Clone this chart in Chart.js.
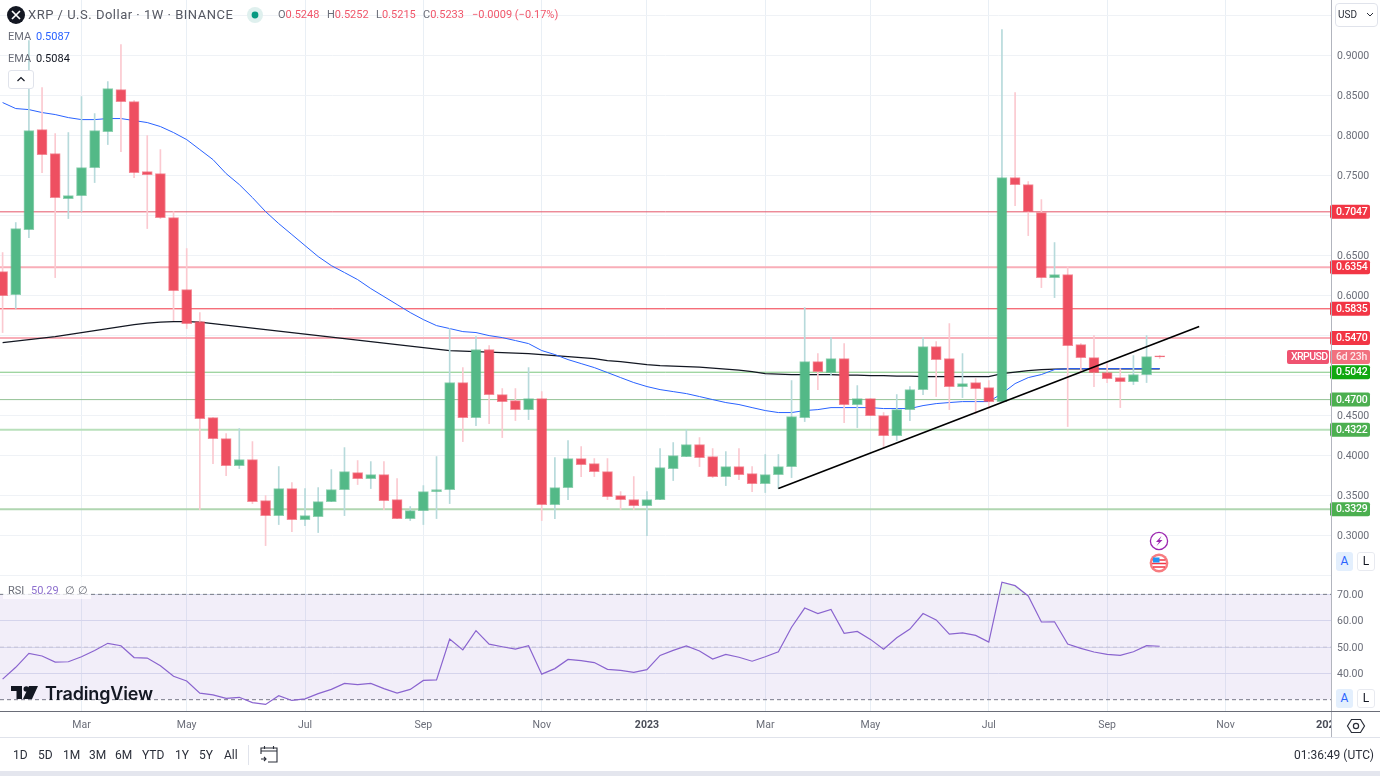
<!DOCTYPE html>
<html>
<head>
<meta charset="utf-8">
<script src="https://cdn.jsdelivr.net/npm/chart.js@4"></script>
<style>
html,body{margin:0;padding:0;background:#fff}
#wrap{position:relative;width:1380px;height:776px;overflow:hidden;background:#fff;font-family:Roboto,sans-serif;color:#131722}
canvas{position:absolute;left:0;top:0}
.t{position:absolute;white-space:nowrap;line-height:14px}
.box{position:absolute;box-sizing:border-box}
.red{color:#f0566a}.gr{color:#6a6d78}
.btn{position:absolute;box-sizing:border-box;border-radius:3px;text-align:center;font-size:12px}
.r{position:absolute;top:748px;font-size:12px;line-height:14px;color:#2a2e39}
</style>
</head>
<body>
<div id="wrap">
<canvas id="c" width="1380" height="738"></canvas>

<svg class="box" style="left:7px;top:6px" width="18" height="18"><circle cx="9" cy="9" r="9" fill="#131722"/><path d="M5 5l8 8M13 5l-8 8" stroke="#fff" stroke-width="1.7"/></svg>
<div class="t" style="left:28px;top:8px;font-size:13px;color:#555862;letter-spacing:.5px">XRP / U.S. Dollar · 1W · BINANCE</div>
<svg class="box" style="left:246px;top:6px" width="18" height="18"><circle cx="9" cy="9" r="8" fill="#dff0ee"/><circle cx="9" cy="9" r="3.4" fill="#089981"/></svg>
<div class="t gr" style="left:278px;top:8px;font-size:11px">O<span class="red">0.5248</span></div>
<div class="t gr" style="left:327px;top:8px;font-size:11px">H<span class="red">0.5252</span></div>
<div class="t gr" style="left:376px;top:8px;font-size:11px">L<span class="red">0.5215</span></div>
<div class="t gr" style="left:423px;top:8px;font-size:11px">C<span class="red">0.5233</span></div>
<div class="t red" style="left:472px;top:8px;font-size:11px">−0.0009 (−0.17%)</div>

<div class="t gr" style="left:8px;top:30px;font-size:11px">EMA</div>
<div class="t" style="left:36px;top:30px;font-size:11px;color:#2962ff">0.5087</div>
<div class="t gr" style="left:8px;top:52px;font-size:11px">EMA</div>
<div class="t" style="left:36px;top:52px;font-size:11px;color:#131722">0.5084</div>
<div class="box" style="left:8px;top:70px;width:26px;height:19px;border:1px solid #e0e3eb;border-radius:3px;background:#fff"></div>
<svg class="box" style="left:16px;top:75px" width="10" height="8"><path d="M1.5 6L5 2.5 8.5 6" fill="none" stroke="#131722" stroke-width="1.2"/></svg>

<div class="box" style="left:1335px;top:3px;width:43px;height:24px;border:1px solid #e0e3eb;border-radius:4px"></div>
<div class="t" style="left:1338px;top:8px;font-size:10px;color:#2a2e39">USD</div>
<svg class="box" style="left:1366px;top:12px" width="8" height="6"><path d="M1 1l3 3 3-3" fill="none" stroke="#2a2e39"/></svg>

<div class="btn" style="left:1336px;top:552px;width:17px;height:19px;background:#e3effd;color:#2962ff;line-height:19px">A</div>
<div class="btn" style="left:1357px;top:552px;width:18px;height:19px;border:1px solid #e8eaf0;line-height:17px">L</div>

<svg class="box" style="left:1149px;top:531px" width="20" height="20"><circle cx="10" cy="10" r="8.6" fill="#fff" stroke="#9c27b0" stroke-width="1.3"/><path d="M12.5 5L7 11h3l-2.5 4L13.5 9h-3z" fill="#9c27b0"/></svg>
<svg class="box" style="left:1149px;top:553px" width="20" height="20"><circle cx="10" cy="10" r="9.4" fill="#f77c80"/><circle cx="10" cy="10" r="7" fill="#fff"/><path d="M3.5 7h13M3 10.5h14M4 14h12" stroke="#f23645" stroke-width="1.7"/><rect x="4" y="4.5" width="6.5" height="5" fill="#2196f3"/></svg>

<div class="box" style="left:3px;top:577px;width:88px;height:22px;background:rgba(255,255,255,.72)"></div>
<div class="t gr" style="left:8px;top:584px;font-size:11px">RSI</div>
<div class="t" style="left:31px;top:584px;font-size:11px;color:#8d6fce">50.29</div>
<div class="t gr" style="left:65px;top:584px;font-size:11px">∅</div>
<div class="t gr" style="left:78px;top:584px;font-size:11px">∅</div>

<svg class="box" style="left:11px;top:686px" width="27" height="14"><path d="M0 0H11V13H5.5V5H0z M12 13L18 0H27L21 13z" fill="#131722"/><circle cx="15.3" cy="3" r="2.8" fill="#131722"/></svg>
<div class="t" style="left:45px;top:684px;font-size:18px;line-height:20px;font-weight:600;color:#131722;font-family:Inter,sans-serif;letter-spacing:-.15px">TradingView</div>

<div class="btn" style="left:1336px;top:689px;width:17px;height:19px;background:#e3effd;color:#2962ff;line-height:19px">A</div>
<div class="btn" style="left:1357px;top:689px;width:18px;height:19px;border:1px solid #e8eaf0;line-height:17px">L</div>

<div class="box" style="left:1316px;top:718px;width:15px;height:14px;overflow:hidden"><div class="t" style="left:0;top:0;font-size:11px;font-weight:700;color:#4a4d58">2024</div></div>
<svg class="box" style="left:1346px;top:716px" width="20" height="20"><path d="M5.5 3.5h9L18.5 10l-4 6.5h-9L1.5 10z" fill="none" stroke="#2a2e39" stroke-width="1.2"/><circle cx="10" cy="10" r="2.6" fill="none" stroke="#2a2e39" stroke-width="1.2"/></svg>

<div class="box" style="left:1331px;top:0;width:1px;height:738px;background:#b2b5be"></div>
<div class="box" style="left:0;top:711px;width:1380px;height:1px;background:#6a6d78"></div>
<div class="box" style="left:0;top:737px;width:1380px;height:1px;background:#e0e3eb"></div>

<div class="r" style="left:13px">1D</div><div class="r" style="left:38px">5D</div><div class="r" style="left:63px">1M</div>
<div class="r" style="left:89px">3M</div><div class="r" style="left:115px">6M</div><div class="r" style="left:142px">YTD</div>
<div class="r" style="left:175px">1Y</div><div class="r" style="left:199px">5Y</div><div class="r" style="left:224px">All</div>
<div class="box" style="left:248px;top:745px;width:1px;height:20px;background:#e0e3eb"></div>
<svg class="box" style="left:260px;top:745px" width="18" height="19"><path d="M1 6h16M4.500 1v3M13.500 1v3M1 9V3h16v14H8M1 14h5m-2-2l2 2-2 2" fill="none" stroke="#2a2e39" stroke-width="1.1"/></svg>
<div class="r" style="right:6px">01:36:49 (UTC)</div>
<div class="box" style="left:0;top:771px;width:1380px;height:5px;background:#e4e6ee"></div>
</div>

<script>
// weekly candles, Jan 2022 .. Oct 2023
const opens = [
  .63,.6013,.6825,.8075,.7775,.7213,.725,.76,.805,.8575,
  .8425,.755,.7525,.6975,.6075,.5675,.4475,.4213,.3875,.395,
  .3438,.325,.3588,.32,.3238,.3425,.3575,.3788,.3713,.3763,
  .345,.3213,.3313,.355,.3575,.4913,.4475,.5325,.4763,.4688,
  .4575,.4713,.3388,.36,.3963,.39,.38,.35,.345,.3375,
  .345,.3838,.3988,.4138,.3988,.3738,.3863,.3775,.365,.3763,
  .3863,.4475,.5175,.5038,.5213,.4638,.4713,.45,.425,.4575,
  .4825,.5363,.5213,.4863,.4913,.485,.4675,.7475,.7388,.7038,
  .6225,.6263,.5388,.5225,.5038,.4975,.4925,.5013,.5248
]
const closes = [
  .60,.6838,.8063,.7763,.7225,.725,.76,.8063,.8588,.8425,
  .7538,.7513,.6975,.6063,.565,.4463,.4213,.3875,.395,.3425,
  .325,.3588,.32,.325,.3425,.3575,.38,.3713,.3763,.3438,
  .3213,.3313,.355,.3575,.4913,.4475,.5325,.4763,.4675,.4575,
  .4713,.3388,.36,.3963,.3888,.38,.3488,.345,.3375,.345,
  .385,.40,.4138,.3975,.3738,.3863,.3763,.365,.3763,.3863,
  .4488,.5175,.505,.5213,.4638,.4713,.45,.425,.4575,.4825,
  .5363,.52,.4863,.49,.4838,.4675,.7475,.7388,.705,.6225,
  .6263,.5375,.5225,.5038,.4963,.4925,.5013,.5238,.5233
]
const highs = [
  .6538,.6913,.9188,.86,.8025,.8038,.8488,.8275,.8675,.9138,
  .8438,.8,.7825,.705,.6588,.5788,.4475,.4275,.4338,.4175,
  .35,.3863,.3663,.3588,.36,.3825,.41,.3938,.3925,.3925,
  .3713,.3363,.3625,.3988,.5588,.51,.5488,.5375,.4838,.4838,
  .51,.48,.3975,.4188,.4113,.3963,.3963,.355,.3738,.355,
  .4088,.4163,.4325,.4225,.4088,.405,.4088,.3863,.4013,.4013,
  .4938,.585,.5275,.5475,.54,.4875,.4713,.4538,.4763,.4863,
  .5475,.5425,.565,.5275,.4963,.4938,.9325,.8538,.7425,.72,
  .6663,.6363,.54,.55,.515,.5088,.525,.55,.5252
]
const lows = [
  .5538,.5838,.6725,.7538,.6225,.6963,.705,.7413,.7888,.78,
  .7475,.6838,.6963,.5688,.5588,.3325,.39,.375,.3838,.34,
  .2875,.3138,.305,.3125,.3038,.3425,.325,.3638,.3588,.3325,
  .3213,.3188,.3138,.3213,.34,.4175,.4375,.44,.4225,.4438,
  .445,.3188,.3213,.345,.3738,.3738,.345,.3325,.3325,.30,
  .345,.3688,.3988,.3863,.3725,.3625,.37,.355,.3538,.3588,
  .3725,.4425,.4825,.50,.4413,.435,.45,.4113,.4188,.4438,
  .4763,.4738,.4575,.4725,.4525,.4588,.4675,.7125,.675,.61,
  .5975,.4363,.5038,.4863,.4913,.46,.4888,.4913,.5215
]
const emaFast = [
  .8413,.8338,.8325,.8288,.8263,.8225,.82,.82,.8213,.8213,
  .8188,.8163,.8113,.8038,.795,.7825,.77,.7525,.7388,.7225,
  .705,.69,.6763,.6625,.6488,.6375,.6288,.62,.6088,.5988,
  .5888,.5788,.57,.5625,.5588,.555,.5538,.55,.5475,.5438,
  .54,.5313,.5263,.52,.515,.51,.5038,.4975,.4913,.4863,
  .4825,.48,.4775,.4738,.47,.4663,.4638,.46,.4563,.4538,
  .4538,.4563,.4575,.46,.46,.46,.46,.4588,.4588,.4588,
  .4625,.465,.4663,.4675,.4675,.4675,.4775,.49,.4975,.5013,
  .5075,.5087,.5087,.5087,.5087,.5087,.5087,.5087,.5087
]
const emaSlow = [
  .5413,.5431,.545,.5469,.5488,.5513,.5538,.5563,.5588,.5613,
  .5638,.5656,.5669,.5675,.5675,.5669,.565,.5631,.5613,.5594,
  .5575,.5556,.5538,.5519,.55,.5481,.5463,.5444,.5425,.5406,
  .5388,.5369,.535,.5331,.5313,.5306,.53,.5294,.5288,.5281,
  .5275,.5263,.525,.5238,.5225,.5213,.5188,.5175,.5156,.5138,
  .5125,.5119,.5113,.5106,.5094,.5081,.5069,.505,.5025,.5019,
  .5013,.5013,.5013,.5013,.5006,.5006,.50,.50,.4994,.4994,
  .4988,.4988,.4988,.4988,.4988,.4988,.5025,.5044,.5063,.5075,
  .5081,.5084,.5084,.5084,.5084,.5084,.5084,.5084,.5084
]
const rsi = [
  37.8,42.3,47.6,46.6,44.3,44.4,46.3,48.7,51.4,50.5,
  46,45.8,42.9,38.9,37.1,32.5,31.8,30.5,30.9,28.9,
  28.2,31.5,29.7,30.3,32.3,33.9,36.2,35.7,36.2,34.2,
  32.5,33.9,37.3,37.5,53,48.9,56.2,51.1,50.1,49.2,
  50.5,39.7,41.8,45.3,44.8,44.1,41.5,41.1,40.4,41.4,
  46.8,48.7,50.4,48.5,45.4,47.2,46.1,44.6,46.3,48.2,
  57.5,64.8,62.7,64.3,55.2,55.9,52.9,49.2,53.5,56.8,
  62.7,60.3,54.9,55.4,54.4,51.9,74.6,73.3,69.4,59.5,
  59.6,51.1,49.5,48.1,47.2,46.8,48.2,50.5,50.29
]
const levels = [0.7047, 0.6354, 0.5835, 0.5470, 0.5042, 0.4700, 0.4322, 0.3329]
const levelColors = ['#e4576a', '#f9aeb8', '#f23645', '#f9aeb8', '#7cc67f', '#93c295', '#b9e0bb', '#b0d6b1']
const levelWidths = [1, 2, 1, 2, 1, 1, 2, 2]
const labelColors = ['#f23645', '#f23645', '#f23645', '#f23645', '#11a811', '#4caf50', '#4caf50', '#4caf50']
const trendWeeks = [59, 91]
const trendPrices = [0.3588, 0.5613]
const monthWeeks = [6, 14, 23, 32, 41, 49, 58, 66, 75, 84, 93]
const monthLabels = ['Mar', 'May', 'Jul', 'Sep', 'Nov', '2023', 'Mar', 'May', 'Jul', 'Sep', 'Nov']
const priceTicks = [.25, .3, .35, .4, .45, .5, .55, .6, .65, .7, .75, .8, .85, .9, .95]
const hiddenPriceTicks = [.25, .5, .55, .7, .95]
const rsiTicks = [40, 50, 60, 70]

const UP = '#53b987', DOWN = '#ee4f61'
const xMin = -0.198, xMax = 101.025
const weeks = opens.map((_, i) => i)
const isUp = i => closes[i] >= opens[i]
const series = vals => vals.map((v, i) => ({x: i, y: v}))
const hline = v => [{x: xMin, y: v}, {x: xMax, y: v}]
const isYear = c => c.tick && c.tick.label === '2023'
const noPadding = s => { s.paddingTop = s.paddingBottom = s.paddingLeft = s.paddingRight = 0 }

const lineDefaults = {type: 'line', pointRadius: 0, tension: 0, fill: false, xAxisID: 'x'}

const datasets = [
  {type: 'line', order: 0, pointRadius: 0, borderColor: '#000', borderWidth: 1.6, yAxisID: 'y', xAxisID: 'x', fill: false,
    data: trendWeeks.map((w, i) => ({x: w, y: trendPrices[i]}))},
  {type: 'bar', order: 1, yAxisID: 'y', xAxisID: 'x', barThickness: 10, grouped: false, borderWidth: 1, borderSkipped: false,
    backgroundColor: weeks.map(i => isUp(i) ? UP : DOWN),
    borderColor: weeks.map(i => isUp(i) ? 'rgba(83,185,135,.65)' : 'rgba(238,79,97,.65)'),
    data: weeks.map(i => ({x: i, y: [opens[i], closes[i]]}))},
  {type: 'bar', order: 2, yAxisID: 'y', xAxisID: 'x', barThickness: 1, grouped: false, borderWidth: 0,
    backgroundColor: weeks.map(i => isUp(i) ? '#b7dadb' : '#fbc9d0'),
    data: weeks.map(i => ({x: i, y: [lows[i], highs[i]]}))},
  {...lineDefaults, order: 3, yAxisID: 'y', borderColor: '#2962ff', borderWidth: 1, data: series(emaFast)},
  {...lineDefaults, order: 4, yAxisID: 'y', borderColor: '#131722', borderWidth: 1.2, data: series(emaSlow)},
  ...levels.map((v, i) => ({...lineDefaults, order: 5, yAxisID: 'y', borderColor: levelColors[i], borderWidth: levelWidths[i], data: hline(v)})),
  {...lineDefaults, order: 6, yAxisID: 'yRsi', borderColor: '#8a64cf', borderWidth: 1.2, data: series(rsi),
    fill: {target: {value: 70}, above: 'rgba(76,175,80,.1)', below: 'transparent'}},
  {...lineDefaults, order: 7, yAxisID: 'yRsi', borderColor: '#787b86', borderWidth: 1, borderDash: [4, 3], data: hline(70),
    fill: {target: {value: 30}, above: 'rgba(126,87,194,.1)', below: 'transparent'}},
  {...lineDefaults, order: 7, yAxisID: 'yRsi', borderColor: 'rgba(120,123,134,.25)', borderWidth: 1, borderDash: [4, 3], data: hline(50)},
  {...lineDefaults, order: 7, yAxisID: 'yRsi', borderColor: '#787b86', borderWidth: 1, borderDash: [4, 3], data: hline(30)}
]

function tag(ctx, x, y, w, color, text, textColor, pad = 6, spacing = '-0.2px') {
  ctx.fillStyle = color
  ctx.beginPath()
  ctx.roundRect(x, y - 7, w, 14, 2)
  ctx.fill()
  ctx.fillStyle = textColor
  ctx.font = '500 10.5px Roboto'
  ctx.letterSpacing = spacing
  ctx.textAlign = 'left'
  ctx.textBaseline = 'middle'
  ctx.fillText(text, x + pad, y + .5)
}

const priceTags = {
  id: 'priceTags',
  afterDraw(chart) {
    const {ctx, scales} = chart
    ctx.save()
    levels.forEach((v, i) => tag(ctx, 1330, scales.y.getPixelForValue(v), 40, labelColors[i], v.toFixed(4), '#fff'))
    const last = scales.y.getPixelForValue(closes[closes.length - 1])
    tag(ctx, 1287, last, 42, '#ef5370', 'XRPUSD', '#fff', 4, '-0.6px')
    tag(ctx, 1330, last, 40, '#f1717f', '6d 23h', '#fde8ea')
    ctx.restore()
  }
}

new Chart(document.getElementById('c'), {
  type: 'bar',
  data: {datasets},
  plugins: [priceTags],
  options: {
    responsive: false,
    animation: false,
    devicePixelRatio: 1,
    layout: {padding: 0},
    plugins: {legend: {display: false}, tooltip: {enabled: false}},
    scales: {
      x: {
        type: 'linear', min: xMin, max: xMax, offset: false,
        afterBuildTicks: s => { s.ticks = monthWeeks.map(v => ({value: v})) },
        afterFit: s => { s.height = 27; noPadding(s) },
        grid: {color: '#e9eff5', drawTicks: false, offset: false},
        border: {display: false},
        ticks: {
          autoSkip: false, maxRotation: 0, padding: 8,
          callback: v => monthLabels[monthWeeks.indexOf(v)],
          color: c => isYear(c) ? '#4a4d58' : '#6a6d78',
          font: c => ({family: 'Roboto', size: 10.5, weight: isYear(c) ? 'bold' : 'normal'})
        }
      },
      y: {
        position: 'right', stack: 'panes', stackWeight: 576, min: 0.2495, max: 0.9695,
        afterBuildTicks: s => { s.ticks = priceTicks.map(v => ({value: v})) },
        afterFit: s => { s.width = 49; noPadding(s) },
        grid: {color: '#eff2f6', drawTicks: false},
        border: {display: false},
        ticks: {
          padding: 6, labelOffset: 1, crossAlign: 'near', color: '#6a6d78', font: {family: 'Roboto', size: 10.5},
          callback: v => hiddenPriceTicks.includes(v) ? '' : v.toFixed(4)
        }
      },
      yRsi: {
        position: 'right', stack: 'panes', stackWeight: 135, min: 25.7, max: 76.97,
        afterBuildTicks: s => { s.ticks = rsiTicks.map(v => ({value: v})) },
        afterFit: s => { s.width = 49; noPadding(s) },
        grid: {color: '#dfe3f1', drawTicks: false},
        border: {display: false},
        ticks: {
          padding: 6, labelOffset: 1, crossAlign: 'near', color: '#6a6d78', font: {family: 'Roboto', size: 10.5},
          callback: v => v.toFixed(2)
        }
      }
    }
  }
})
</script>
</body>
</html>
